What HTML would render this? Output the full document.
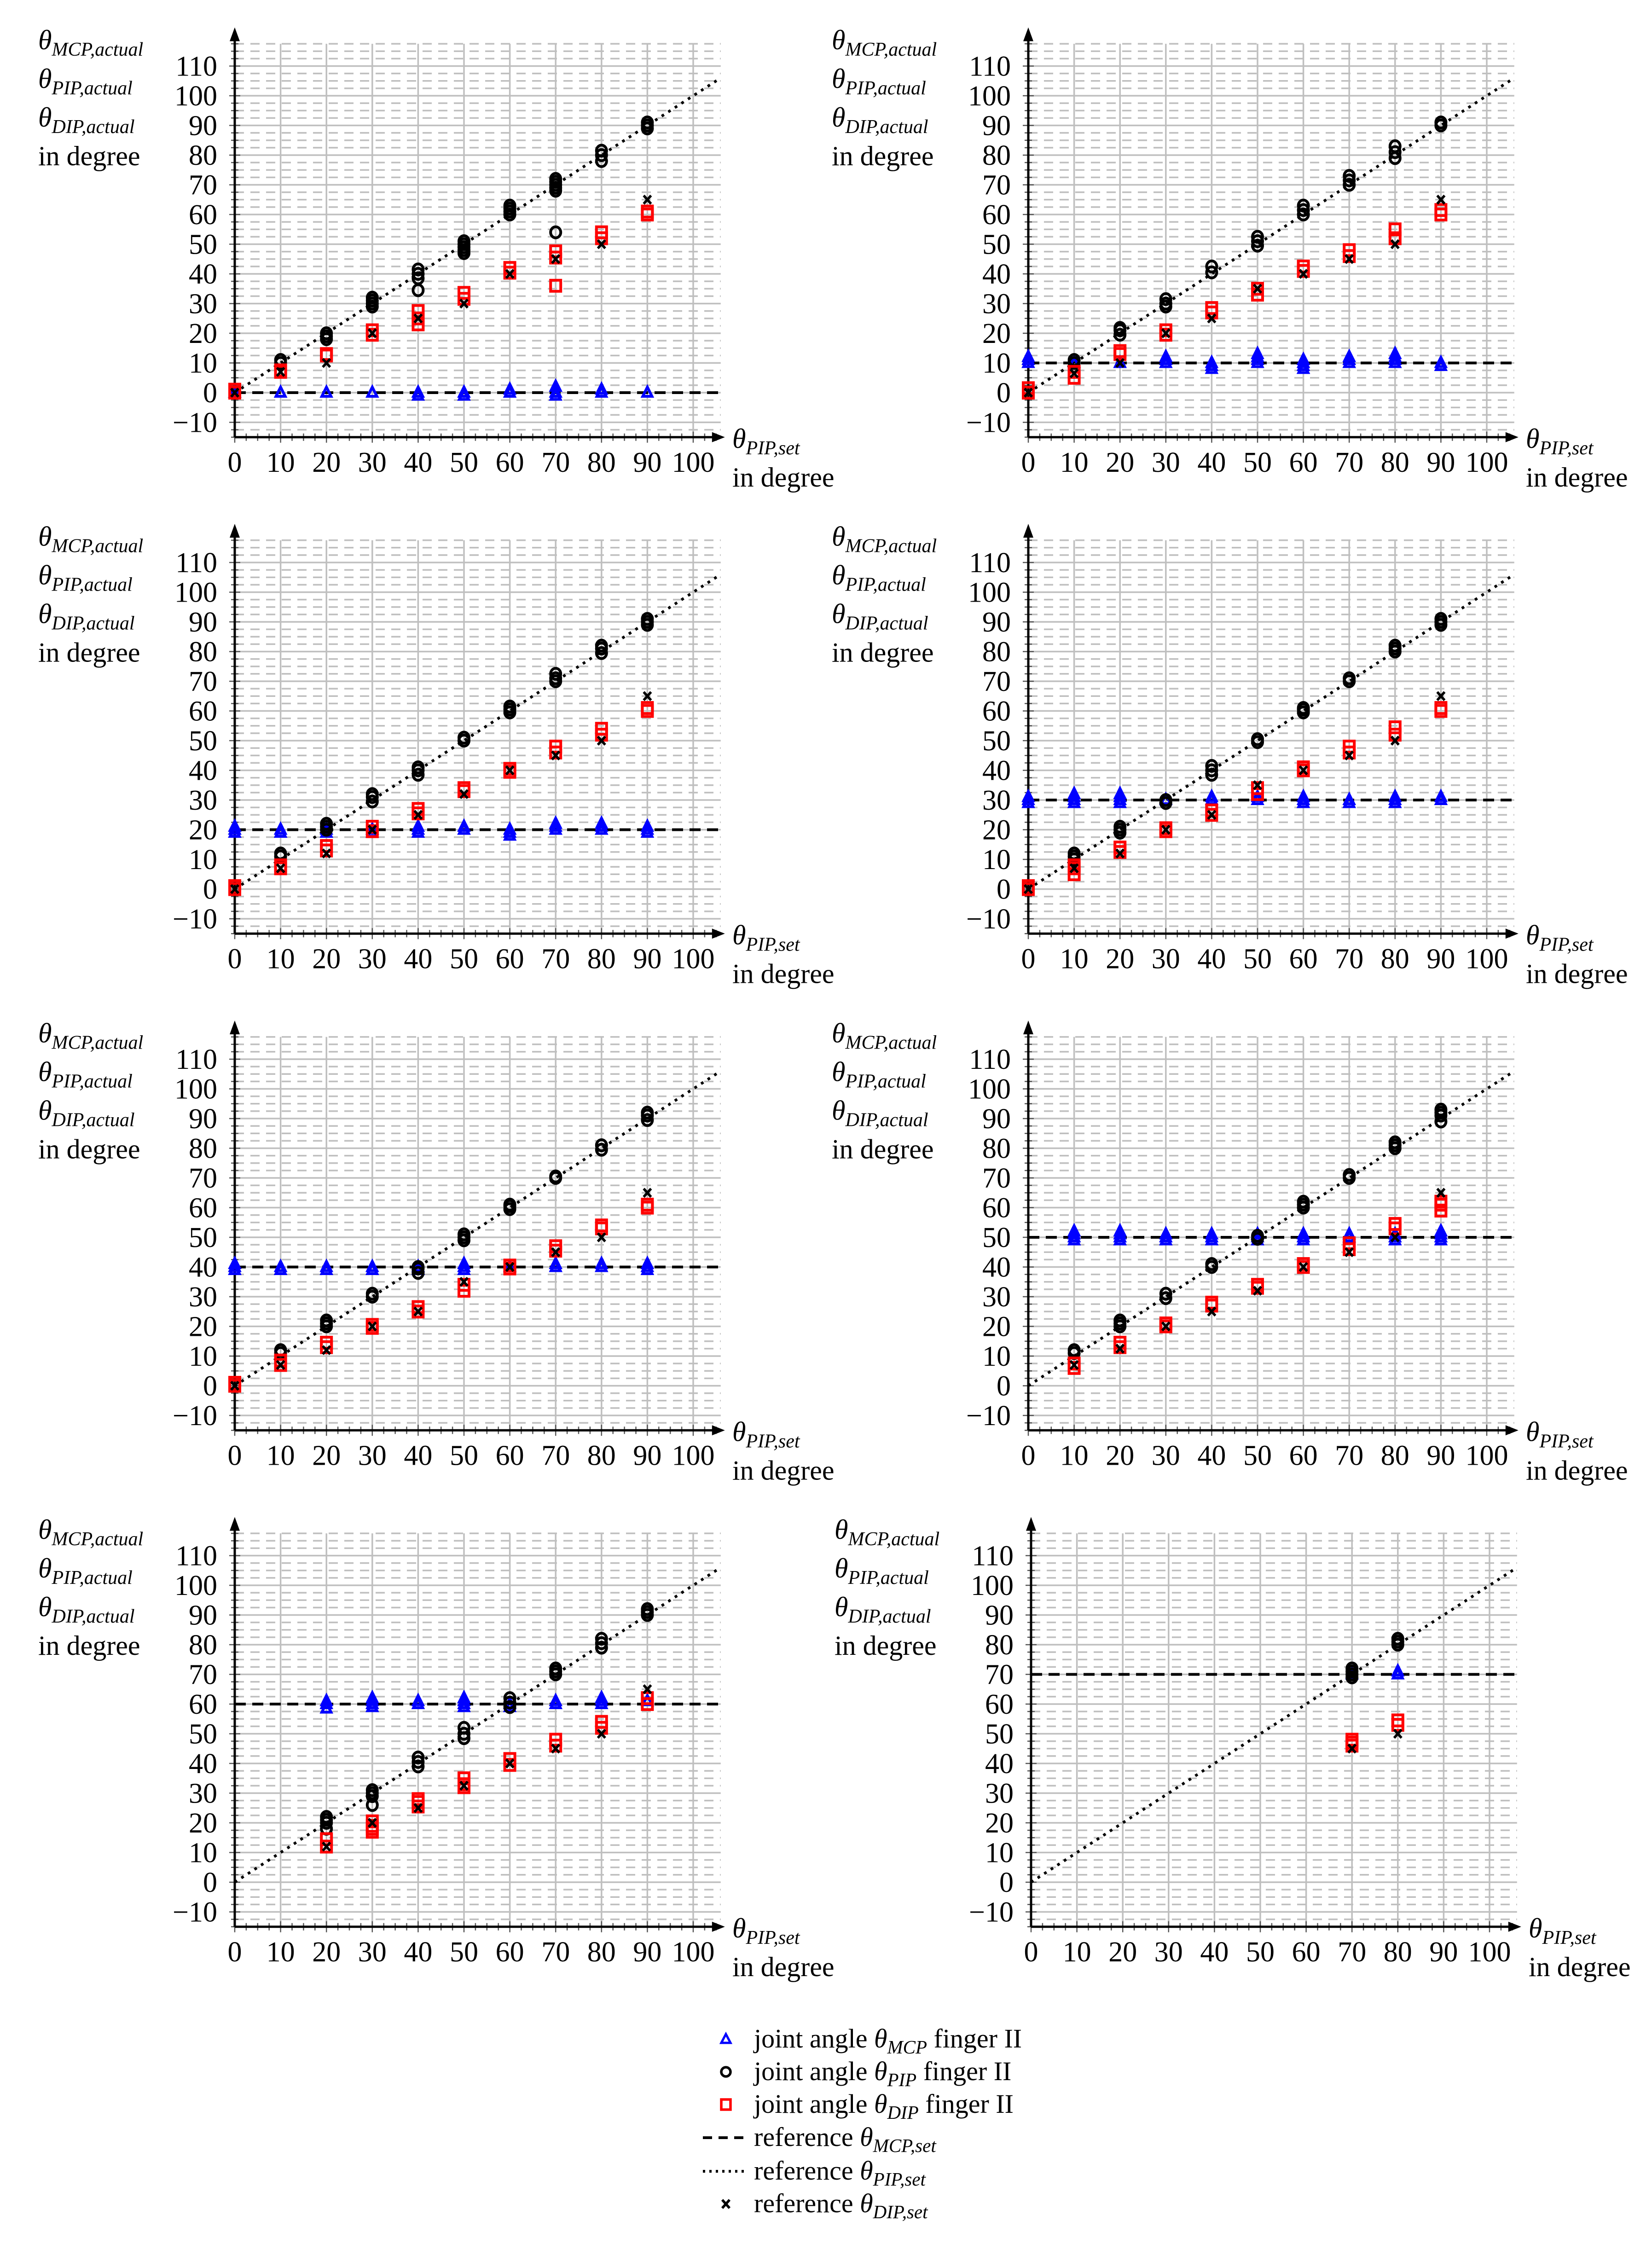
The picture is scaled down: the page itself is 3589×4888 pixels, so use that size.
<!DOCTYPE html>
<html><head><meta charset="utf-8">
<style>
html,body{margin:0;padding:0;background:#fff;}
svg{display:block;}
text{font-family:"Liberation Serif",serif;fill:#000;}
</style></head>
<body>
<svg id="fig" xmlns="http://www.w3.org/2000/svg" width="3589" height="4888" viewBox="0 0 3589 4888"></svg>
<script>
// ---------- data ----------
const xSet = [0,10,20,30,40,50,60,70,80,90];
const xTicks = [0,10,20,30,40,50,60,70,80,90,100];
const yTicks = [-10,0,10,20,30,40,50,60,70,80,90,100,110];
const mcpRefs = [0,10,20,30,40,50,60,70];

const p1Mcp = [[0],[0],[0],[0],[-1,0],[-1,0],[0,1],[-1,0,2],[0,1],[0]];
const p1Pip = [[0],[10,11],[18,19,20],[29,30,31,32],[38.5,40,41.5,34.5],[47,48,49,50,51],[60,61,62,63],[68,69,70,71,72,54],[78,80,81.5],[89,90,91]];
const p1Dip = [[0,1],[7,7.5],[12.5,13],[19.5,21],[23,25,27.5],[31.6,33.6],[40.4,42],[45.5,47.6,36],[52,54],[60,61]];
const p1DipRef = [0,7,10,20,25,30,40,45,50,65];

const p2Mcp = [[10,11,12],[10],[10],[10,11,12],[8,9,10],[10,11,12,13],[8,9,10,11],[10,11,12],[10,11,12,13],[9,10]];
const p2Pip = [[0],[10,11],[19.5,21,21.8],[29,30,31.5],[40.5,42.5],[49.5,51,52.5],[60,61.5,63],[70,71.5,73],[79,81,83],[90,91]];
const p2Dip = [[0,1.5],[5,7],[13,14],[19.5,21],[27,28.5],[33,35],[41,42.5],[46,48],[52,55],[60,61.5]];
const p2DipRef = [0,6.5,10,20,25,35,40,45,50,65];

const p3Mcp = [[19,20,21],[19,20],[19,20],[19,20],[19,20,21],[20,21],[18,19,20],[20,21,22],[20,21,22],[19,20,21]];
const p3Pip = [[0],[11,12],[20,21,22],[29.5,31,32],[38.5,40,41],[50,51],[59.5,60.5,61.5],[70,71,72.5],[79.5,81,82],[89,90,91]];
const p3Dip = [[0,1],[7,8],[13,14.5],[19.5,21],[25.5,27],[33,34],[39.5,40.5],[46,48],[52,54],[60,61]];
const p3DipRef = [0,7,12,20,25,32,40,45,50,65];

const p4Mcp = [[29,30,31],[29,30,31,32],[29,30,31,32],[30],[30,31],[30,31],[29,30,31],[29,30],[29,30,31],[30,31]];
const p4Pip = [[0],[10,11,12],[19,20,21],[29,30],[38.5,40,41.5],[49.5,50.5],[59.5,60.5,61],[70,71],[80,81,82],[89,90,91]];
const p4Dip = [[0,1],[5,7,8],[12.5,14],[19.5,20.5],[25,26.5],[32,34],[40,41],[46,48],[52,54.5],[60,61]];
const p4DipRef = [0,7,12,20,25,35,40,45,50,65];

const p5Mcp = [[39,40,41],[39,40],[39,40],[39,40],[39,40],[39,40,41],[40],[40,41],[40,41],[39,40,41]];
const p5Pip = [[0],[11,12],[20,21,22],[30,31],[38,39.5,40],[49,50,51],[59.5,60.5,61],[70,70.5],[79.5,81],[89.5,91,92]];
const p5Dip = [[0,1],[7,8.5],[13,14.5],[19.5,20.5],[25,26.5],[32,34],[39.5,40.5],[45.5,47],[53,54],[60,61]];
const p5DipRef = [0,7,12,20,25,35,40,45,50,65];

const p6Mcp = [[],[49,50,51,52],[49,50,51,52],[49,50,51],[49,50,51],[49,50,51],[49,50,51],[50,51],[49,50,51],[49,50,51,52]];
const p6Pip = [[],[11,12],[20,21,22],[29.5,31],[40,41],[49.5,50.5],[60,61,62],[70,71],[80,81,82],[89,91,92,93]];
const p6Dip = [[],[6,7.5],[13,14.5],[20,21],[27,28],[33,34],[40,41],[46,48],[53,54.5],[59,61,62]];
const p6DipRef = [null,7,12.5,20,25,32,40,45,50,65];

const p7Mcp = [[],[],[58.5,60,61],[59,60,61,62],[60,61],[59,60,61,62],[59,60],[60,61],[60,61,62],[61]];
const p7Pip = [[],[],[18,20,21,22],[26,29,30,31],[39,40.5,42],[48.5,50,52],[59,60.5,62],[70,71,72],[79,80.5,82],[90,91,92]];
const p7Dip = [[],[],[12,14.5],[17,18,19,20.5],[25.5,27,28],[32,33,35],[39.5,41.5],[46,48],[52,54],[60,62]];
const p7DipRef = [null,null,12,20,25,32.5,40,45,50,65];

const p8Mcp = [[],[],[],[],[],[],[],[70],[70,71],[]];
const p8Pip = [[],[],[],[],[],[],[],[69,70,71,72],[80,81,82],[]];
const p8Dip = [[],[],[],[],[],[],[],[46,47,48],[53,54.5],[]];
const p8DipRef = [null,null,null,null,null,null,null,45,50,null];

// ---------- layout ----------
const NS = "http://www.w3.org/2000/svg";
const svg = document.getElementById('fig');
const XS = 9.96, YS = 6.45;
const rowZero = [853, 1931.5, 3010.5, 4089];
const colX0 = [510, 2234];
const panels = [
  {x0:colX0[0], z:rowZero[0], mcp:p1Mcp, pip:p1Pip, dip:p1Dip, ref:p1DipRef, mref:mcpRefs[0]},
  {x0:colX0[1], z:rowZero[0], mcp:p2Mcp, pip:p2Pip, dip:p2Dip, ref:p2DipRef, mref:mcpRefs[1]},
  {x0:colX0[0], z:rowZero[1], mcp:p3Mcp, pip:p3Pip, dip:p3Dip, ref:p3DipRef, mref:mcpRefs[2]},
  {x0:colX0[1], z:rowZero[1], mcp:p4Mcp, pip:p4Pip, dip:p4Dip, ref:p4DipRef, mref:mcpRefs[3]},
  {x0:colX0[0], z:rowZero[2], mcp:p5Mcp, pip:p5Pip, dip:p5Dip, ref:p5DipRef, mref:mcpRefs[4]},
  {x0:colX0[1], z:rowZero[2], mcp:p6Mcp, pip:p6Pip, dip:p6Dip, ref:p6DipRef, mref:mcpRefs[5]},
  {x0:colX0[0], z:rowZero[3], mcp:p7Mcp, pip:p7Pip, dip:p7Dip, ref:p7DipRef, mref:mcpRefs[6]},
  {x0:colX0[1]+6, z:rowZero[3], mcp:p8Mcp, pip:p8Pip, dip:p8Dip, ref:p8DipRef, mref:mcpRefs[7]}
];

function mk(tag, attrs, parent){
  const e = document.createElementNS(NS, tag);
  for (const k in attrs) e.setAttribute(k, attrs[k]);
  (parent||svg).appendChild(e);
  return e;
}

function drawPanel(P, idx){
  const g = mk('g', {});
  
  
  const sx = v => P.x0 + v*XS;
  const sy = v => P.z - v*YS;
  const xR = sx(106);
  for (let v = -12.5; v <= 117.5; v += 2.5) {
    if (Math.abs(v % 10) < 0.01) continue;
    const l = mk('line', {x1:sx(0), x2:xR, y1:sy(v), y2:sy(v), stroke:'#bfbfbf', 'stroke-width':3.5, 'stroke-dasharray':'20 14'}, g);
    
    
  }
  yTicks.forEach(v => {
    const l = mk('line', {x1:sx(0), x2:xR, y1:sy(v), y2:sy(v), stroke:'#bfbfbf', 'stroke-width':3.5}, g);
    
    
  });
  xTicks.forEach(v => {
    if (v === 0) return;
    const l = mk('line', {x1:sx(v), x2:sx(v), y1:sy(-15), y2:sy(117.5), stroke:'#bfbfbf', 'stroke-width':3.5}, g);
    
    
  });
  for (let v = -15; v <= 117.5; v += 2.5) {
    const major = Math.abs(v % 10) < 0.01;
    const t = mk('line', {x1:sx(0)-(major?12:8), x2:sx(0)+(major?12:8), y1:sy(v), y2:sy(v), stroke:'#555', 'stroke-width':2.5}, g);
    
    
  }
  for (let v = 0; v <= 105; v += 2.5) {
    const major = Math.abs(v % 10) < 0.01;
    const t = mk('line', {x1:sx(v), x2:sx(v), y1:sy(-15)-(major?12:8), y2:sy(-15)+(major?12:8), stroke:'#555', 'stroke-width':2.5}, g);
    
    
  }
  const md = mk('line', {x1:sx(0), x2:xR, y1:sy(P.mref), y2:sy(P.mref), stroke:'#000', 'stroke-width':6, 'stroke-dasharray':'24 14'}, g);
  
  
  const pd = mk('line', {x1:sx(0), x2:sx(106), y1:sy(0), y2:sy(106), stroke:'#000', 'stroke-width':6, 'stroke-dasharray':'6 11'}, g);
  
  
  const ya = mk('line', {x1:sx(0), x2:sx(0), y1:sy(-15), y2:sy(119), stroke:'#000', 'stroke-width':5}, g);
  
  
  const yah = mk('polygon', {points:`${sx(0)-11},${sy(119)+4} ${sx(0)+11},${sy(119)+4} ${sx(0)},${sy(119)-26}`, fill:'#000'}, g);
  
  
  const xa = mk('line', {x1:sx(0), x2:sx(104.5), y1:sy(-15), y2:sy(-15), stroke:'#000', 'stroke-width':5}, g);
  
  
  const xah = mk('polygon', {points:`${sx(104.5)-4},${sy(-15)-11} ${sx(104.5)-4},${sy(-15)+11} ${sx(104.5)+24},${sy(-15)}`, fill:'#000'}, g);
  
  
  yTicks.forEach(v => {
    const t = mk('text', {x:sx(0)-38, y:sy(v)+21, 'font-size':62, 'text-anchor':'end'}, g);
    t.textContent = v < 0 ? '\u2212' + Math.abs(v) : String(v);
    
    
  });
  xTicks.forEach(v => {
    const t = mk('text', {x:sx(v), y:P.z+172, 'font-size':62, 'text-anchor':'middle'}, g);
    t.textContent = String(v);
    
    
  });
  const ylab = [['MCP,actual',-746],['PIP,actual',-662],['DIP,actual',-578]];
  ylab.forEach(([s,dy]) => {
    const t = mk('text', {x:P.x0-427, y:P.z+dy, 'font-size':60}, g);
    t.innerHTML = '<tspan font-style="italic">θ</tspan><tspan font-style="italic" font-size="42" dy="14">' + s + '</tspan>';
    
    
  });
  const yd = mk('text', {x:P.x0-427, y:P.z-494, 'font-size':60}, g);
  yd.textContent = 'in degree';
  
  
  const xt = mk('text', {x:P.x0+1081, y:P.z+120, 'font-size':60}, g);
  xt.innerHTML = '<tspan font-style="italic">θ</tspan><tspan font-style="italic" font-size="42" dy="14">PIP,set</tspan>';
  
  
  const xd = mk('text', {x:P.x0+1081, y:P.z+204, 'font-size':60}, g);
  xd.textContent = 'in degree';
  
  

  xSet.forEach((xv, i) => {
    P.mcp[i].forEach(v => {
      const cx = sx(xv), cy = sy(v);
      const m = mk('polygon', {points:`${cx-10},${cy+8} ${cx+10},${cy+8} ${cx},${cy-12}`, fill:'none', stroke:'#0000ff', 'stroke-width':6}, g);
      
      
    });
  });
  xSet.forEach((xv, i) => {
    P.pip[i].forEach(v => {
      const m = mk('ellipse', {cx:sx(xv), cy:sy(v), rx:11, ry:12, fill:'none', stroke:'#000', 'stroke-width':6}, g);
      
      
    });
  });
  xSet.forEach((xv, i) => {
    P.dip[i].forEach(v => {
      const m = mk('rect', {x:sx(xv)-11, y:sy(v)-12, width:22, height:24, fill:'none', stroke:'#ff0000', 'stroke-width':6}, g);
      
      
    });
  });
  xSet.forEach((xv, i) => {
    const v = P.ref[i];
    if (v === null || v === undefined) return;
    const cx = sx(xv), cy = sy(v);
    const m = mk('path', {d:`M${cx-8},${cy-9}L${cx+8},${cy+9}M${cx+8},${cy-9}L${cx-8},${cy+9}`, stroke:'#000', 'stroke-width':5.5, fill:'none'}, g);
    
    
  });
}
panels.forEach(drawPanel);

// ---------- legend ----------
const lg = mk('g', {});


const legY = [4448, 4519, 4590, 4662, 4735, 4806];
const legSub = ['MCP','PIP','DIP','MCP,set','PIP,set','DIP,set'];
const legPre = ['joint angle ','joint angle ','joint angle ','reference ','reference ','reference '];
const legPost = [' finger II',' finger II',' finger II','','',''];
legY.forEach((y, i) => {
  const cx = 1577, cy = y - 18;
  let m;
  if (i === 0) m = mk('polygon', {points:`${cx-10},${cy+8} ${cx+10},${cy+8} ${cx},${cy-11}`, fill:'none', stroke:'#0000ff', 'stroke-width':5}, lg);
  if (i === 1) m = mk('circle', {cx:cx, cy:cy, r:10, fill:'none', stroke:'#000', 'stroke-width':5.5}, lg);
  if (i === 2) m = mk('rect', {x:cx-10, y:cy-11, width:20, height:22, fill:'none', stroke:'#ff0000', 'stroke-width':5.5}, lg);
  if (i === 3) m = mk('line', {x1:1527, x2:1617, y1:cy, y2:cy, stroke:'#000', 'stroke-width':6, 'stroke-dasharray':'20 14'}, lg);
  if (i === 4) m = mk('line', {x1:1527, x2:1622, y1:cy, y2:cy, stroke:'#000', 'stroke-width':6, 'stroke-dasharray':'5 9'}, lg);
  if (i === 5) m = mk('path', {d:`M${cx-8},${cy-9}L${cx+8},${cy+9}M${cx+8},${cy-9}L${cx-8},${cy+9}`, stroke:'#000', 'stroke-width':5.5}, lg);
  
  
  const t = mk('text', {x:1638, y:y, 'font-size':58}, lg);
  t.innerHTML = legPre[i] + '<tspan font-style="italic">θ</tspan><tspan font-style="italic" font-size="41" dy="13">' + legSub[i] + '</tspan><tspan dy="-13">' + legPost[i] + '</tspan>';
  
  
});
</script>
</body></html>
